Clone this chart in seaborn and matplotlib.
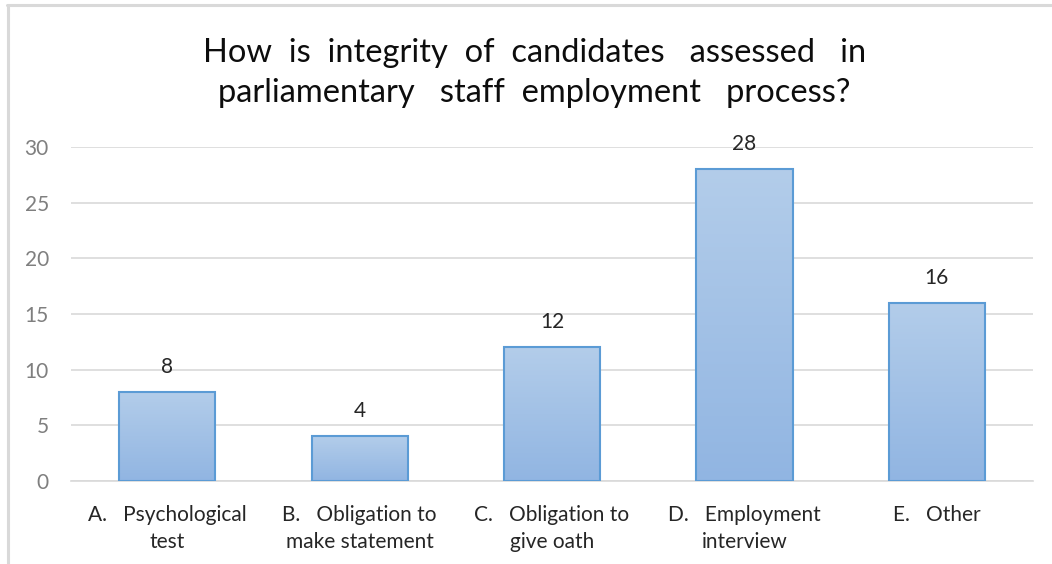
import numpy as np
import pandas as pd
import matplotlib
matplotlib.use("Agg")
import matplotlib.pyplot as plt
from matplotlib.colors import LinearSegmentedColormap
from matplotlib.lines import Line2D
import seaborn as sns

# Survey responses
categories = [
    "A.   Psychological\ntest",
    "B.   Obligation to\nmake statement",
    "C.   Obligation to\ngive oath",
    "D.   Employment\ninterview",
    "E.   Other",
]
counts = [8, 4, 12, 28, 16]
y_ticks = [0, 5, 10, 15, 20, 25, 30]
title = "How  is  integrity  of  candidates   assessed   in\nparliamentary   staff  employment   process?"

sns.set_theme(style="white")
plt.rcParams["font.family"] = ["Lato", "DejaVu Sans"]

df = pd.DataFrame({"category": categories, "count": counts})

fig = plt.figure(figsize=(10.52, 5.64), dpi=100)
ax = fig.add_axes([0.0675, 0.1472, 0.9145, 0.5922])

sns.barplot(data=df, x="category", y="count", ax=ax, width=0.5,
            color="#9dbde6", edgecolor="#5b9bd5", linewidth=1.5,
            saturation=1, errorbar=None, zorder=3)

# vertical gradient fill inside each bar
grad_cmap = LinearSegmentedColormap.from_list("barfill", ["#91b5e2", "#b3cdea"])
gradient = np.linspace(0, 1, 256).reshape(-1, 1)
for patch in ax.patches:
    x0 = patch.get_x()
    w = patch.get_width()
    h = patch.get_height()
    img = ax.imshow(gradient, extent=[x0, x0 + w, 0, h], origin="lower",
                    aspect="auto", cmap=grad_cmap, zorder=2)
    img.set_clip_path(patch)
    patch.set_facecolor("none")

ax.set_xlim(-0.5, len(categories) - 0.5)
ax.set_ylim(0, 30)
ax.set_yticks(y_ticks)
ax.yaxis.grid(True, color="#d9d9d9", linewidth=1.2, zorder=0)
ax.set_axisbelow(True)
for side in ["top", "right", "left"]:
    ax.spines[side].set_visible(False)
ax.spines["bottom"].set_color("#d9d9d9")
ax.spines["bottom"].set_linewidth(1.2)
ax.tick_params(axis="y", length=0, pad=16, labelsize=15, labelcolor="#7f7f7f")
ax.tick_params(axis="x", length=0, pad=17, labelsize=15, labelcolor="#262626")
for lbl in ax.get_xticklabels():
    lbl.set_linespacing(1.45)
ax.set_xlabel("")
ax.set_ylabel("")

ax.bar_label(ax.containers[0], labels=[str(v) for v in counts],
             padding=11, fontsize=15, color="#262626")

fig.text(0.508, 0.87, title, ha="center", va="center", fontsize=23.5,
         color="#0d0d0d", linespacing=1.42)

# light frame along the top and left edges
fig.add_artist(Line2D([7 / 1052, 1], [1 - 5 / 564, 1 - 5 / 564],
                      transform=fig.transFigure, color="#d9d9d9", linewidth=2.2))
fig.add_artist(Line2D([8 / 1052, 8 / 1052], [0, 1 - 5 / 564],
                      transform=fig.transFigure, color="#d9d9d9", linewidth=2.2))

fig.savefig("out.png", dpi=100, facecolor="white")
